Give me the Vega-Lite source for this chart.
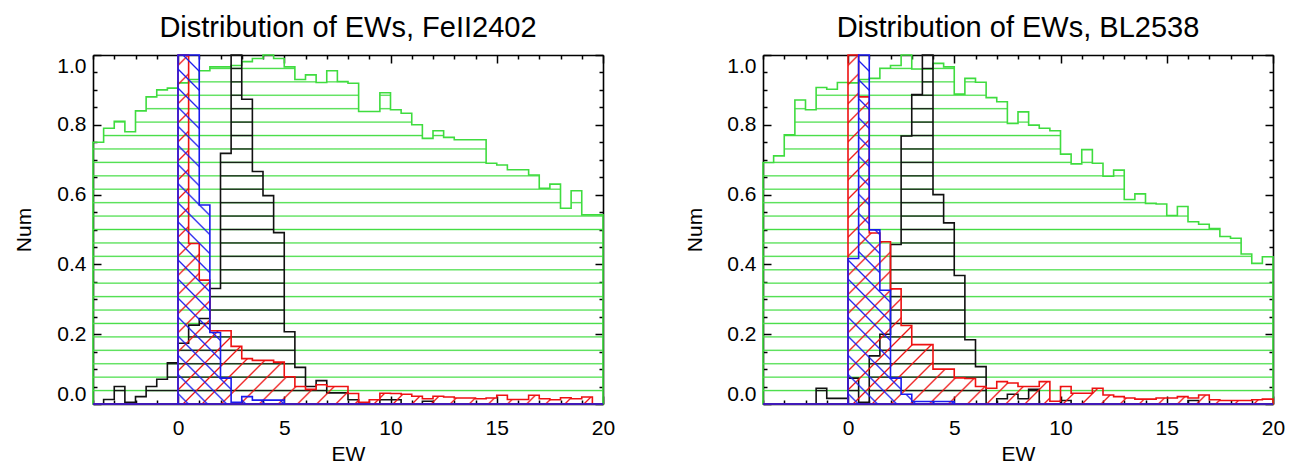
{
"$schema": "https://vega.github.io/schema/vega-lite/v6.json",
"background": "white",
"padding": {"left": 13, "top": 13, "right": 5, "bottom": 5},
"bounds": "flush",
"spacing": 160,
"datasets": {
"L": [
{"ew":-4,"g":0.75,"k":0,"r":0,"b":0},
{"ew":-3.5,"g":0.79,"k":0.013,"r":0,"b":0},
{"ew":-3,"g":0.81,"k":0.05,"r":0,"b":0},
{"ew":-2.5,"g":0.78,"k":0.005,"r":0,"b":0},
{"ew":-2,"g":0.84,"k":0.021,"r":0,"b":0},
{"ew":-1.5,"g":0.88,"k":0.05,"r":0,"b":0},
{"ew":-1,"g":0.9,"k":0.071,"r":0,"b":0},
{"ew":-0.5,"g":0.905,"k":0.118,"r":0,"b":0},
{"ew":0,"g":0.92,"k":0.174,"r":1,"b":1},
{"ew":0.5,"g":0.93,"k":0.226,"r":0.46,"b":1},
{"ew":1,"g":0.955,"k":0.245,"r":0.355,"b":0.57},
{"ew":1.5,"g":0.966,"k":0.331,"r":0.21,"b":0.205},
{"ew":2,"g":0.966,"k":0.718,"r":0.21,"b":0.074},
{"ew":2.5,"g":0.97,"k":1,"r":0.165,"b":0.005},
{"ew":3,"g":0.981,"k":0.873,"r":0.13,"b":0.021},
{"ew":3.5,"g":0.99,"k":0.666,"r":0.125,"b":0.011},
{"ew":4,"g":1,"k":0.597,"r":0.125,"b":0.011},
{"ew":4.5,"g":0.99,"k":0.491,"r":0.12,"b":0.011},
{"ew":5,"g":0.966,"k":0.207,"r":0.078,"b":0},
{"ew":5.5,"g":0.93,"k":0.105,"r":0.05,"b":0},
{"ew":6,"g":0.943,"k":0.05,"r":0.042,"b":0},
{"ew":6.5,"g":0.921,"k":0.067,"r":0.055,"b":0},
{"ew":7,"g":0.955,"k":0.032,"r":0.05,"b":0},
{"ew":7.5,"g":0.924,"k":0.032,"r":0.05,"b":0},
{"ew":8,"g":0.919,"k":0.012,"r":0.03,"b":0},
{"ew":8.5,"g":0.838,"k":0,"r":0.005,"b":0},
{"ew":9,"g":0.838,"k":0,"r":0.012,"b":0},
{"ew":9.5,"g":0.892,"k":0.012,"r":0.031,"b":0},
{"ew":10,"g":0.843,"k":0.012,"r":0.03,"b":0},
{"ew":10.5,"g":0.833,"k":0,"r":0.028,"b":0},
{"ew":11,"g":0.8,"k":0,"r":0.022,"b":0},
{"ew":11.5,"g":0.761,"k":0.008,"r":0.015,"b":0},
{"ew":12,"g":0.783,"k":0,"r":0.022,"b":0},
{"ew":12.5,"g":0.764,"k":0,"r":0.02,"b":0},
{"ew":13,"g":0.757,"k":0,"r":0.017,"b":0},
{"ew":13.5,"g":0.757,"k":0,"r":0.017,"b":0},
{"ew":14,"g":0.757,"k":0,"r":0.015,"b":0},
{"ew":14.5,"g":0.69,"k":0,"r":0.017,"b":0},
{"ew":15,"g":0.685,"k":0,"r":0.025,"b":0},
{"ew":15.5,"g":0.671,"k":0,"r":0.013,"b":0},
{"ew":16,"g":0.671,"k":0,"r":0.013,"b":0},
{"ew":16.5,"g":0.656,"k":0,"r":0.025,"b":0},
{"ew":17,"g":0.618,"k":0,"r":0.015,"b":0},
{"ew":17.5,"g":0.63,"k":0,"r":0.012,"b":0},
{"ew":18,"g":0.561,"k":0,"r":0.018,"b":0},
{"ew":18.5,"g":0.611,"k":0,"r":0.015,"b":0},
{"ew":19,"g":0.542,"k":0,"r":0.02,"b":0},
{"ew":19.5,"g":0.542,"k":0,"r":0,"b":0},
{"ew":20,"g":0.542,"k":0,"r":0,"b":0}
],
"R": [
{"ew":-4,"g":0.692,"k":0,"r":0,"b":0},
{"ew":-3.5,"g":0.711,"k":0,"r":0,"b":0},
{"ew":-3,"g":0.771,"k":0,"r":0,"b":0},
{"ew":-2.5,"g":0.871,"k":0,"r":0,"b":0},
{"ew":-2,"g":0.843,"k":0,"r":0,"b":0},
{"ew":-1.5,"g":0.907,"k":0.045,"r":0,"b":0},
{"ew":-1,"g":0.902,"k":0.016,"r":0,"b":0},
{"ew":-0.5,"g":0.921,"k":0.016,"r":0,"b":0},
{"ew":0,"g":0.92,"k":0.074,"r":1,"b":0.417},
{"ew":0.5,"g":0.93,"k":0.005,"r":0.88,"b":1},
{"ew":1,"g":0.933,"k":0.138,"r":0.49,"b":0.499},
{"ew":1.5,"g":0.962,"k":0.2,"r":0.465,"b":0.326},
{"ew":2,"g":0.97,"k":0.457,"r":0.33,"b":0.074},
{"ew":2.5,"g":1,"k":0.768,"r":0.225,"b":0.028},
{"ew":3,"g":0.96,"k":0.887,"r":0.17,"b":0.007},
{"ew":3.5,"g":0.96,"k":1,"r":0.17,"b":0.007},
{"ew":4,"g":0.976,"k":0.6,"r":0.1,"b":0.007},
{"ew":4.5,"g":0.966,"k":0.519,"r":0.1,"b":0.007},
{"ew":5,"g":0.888,"k":0.368,"r":0.075,"b":0},
{"ew":5.5,"g":0.933,"k":0.184,"r":0.073,"b":0},
{"ew":6,"g":0.922,"k":0.107,"r":0.05,"b":0},
{"ew":6.5,"g":0.878,"k":0,"r":0.045,"b":0},
{"ew":7,"g":0.866,"k":0.015,"r":0.064,"b":0},
{"ew":7.5,"g":0.804,"k":0.028,"r":0.06,"b":0},
{"ew":8,"g":0.837,"k":0.015,"r":0.05,"b":0},
{"ew":8.5,"g":0.799,"k":0.042,"r":0.05,"b":0},
{"ew":9,"g":0.79,"k":0,"r":0.064,"b":0},
{"ew":9.5,"g":0.783,"k":0,"r":0.008,"b":0},
{"ew":10,"g":0.716,"k":0.01,"r":0.05,"b":0},
{"ew":10.5,"g":0.688,"k":0,"r":0.031,"b":0},
{"ew":11,"g":0.729,"k":0,"r":0.031,"b":0},
{"ew":11.5,"g":0.69,"k":0,"r":0.045,"b":0},
{"ew":12,"g":0.653,"k":0,"r":0.026,"b":0},
{"ew":12.5,"g":0.67,"k":0,"r":0.021,"b":0},
{"ew":13,"g":0.586,"k":0,"r":0.017,"b":0},
{"ew":13.5,"g":0.602,"k":0,"r":0.014,"b":0},
{"ew":14,"g":0.575,"k":0,"r":0.014,"b":0},
{"ew":14.5,"g":0.573,"k":0,"r":0.017,"b":0},
{"ew":15,"g":0.54,"k":0,"r":0.017,"b":0},
{"ew":15.5,"g":0.566,"k":0,"r":0.021,"b":0},
{"ew":16,"g":0.522,"k":0.01,"r":0.017,"b":0},
{"ew":16.5,"g":0.515,"k":0,"r":0.026,"b":0},
{"ew":17,"g":0.503,"k":0,"r":0.012,"b":0},
{"ew":17.5,"g":0.48,"k":0,"r":0.01,"b":0},
{"ew":18,"g":0.475,"k":0,"r":0.01,"b":0},
{"ew":18.5,"g":0.43,"k":0,"r":0.01,"b":0},
{"ew":19,"g":0.403,"k":0,"r":0.012,"b":0},
{"ew":19.5,"g":0.422,"k":0,"r":0.014,"b":0},
{"ew":20,"g":0.422,"k":0,"r":0.014,"b":0}
]
},
"hconcat": [
{
"width": 510, "height": 349,
"title": "Distribution of EWs, FeII2402",
"data": {"name": "L"},
"resolve": {"axis": {"x": "independent", "y": "independent"}},
"layer": [
{"mark": {"type": "area", "interpolate": "step-after", "style": "hg", "stroke": "#3fdc3f", "strokeWidth": 1.6},
 "encoding": {
  "x": {"field": "ew", "type": "quantitative", "scale": {"domain": [-4, 20], "nice": false, "zero": false},
   "axis": {"orient": "bottom", "title": "EW", "values": [-4,-3,-2,-1,0,1,2,3,4,5,6,7,8,9,10,11,12,13,14,15,16,17,18,19,20], "labelExpr": "datum.value % 5 === 0 ? datum.label : ''", "labelFlush": false, "tickSize": {"condition": {"test": "datum.value % 5 === 0", "value": -8}, "value": -4}, "labelPadding": 21, "titleY": 56, "titleBaseline": "alphabetic"}},
  "y": {"field": "g", "type": "quantitative", "scale": {"domain": [0, 1], "nice": false, "zero": false},
   "axis": {"orient": "left", "title": "Num", "values": [0,0.05,0.1,0.15,0.2,0.25,0.3,0.35,0.4,0.45,0.5,0.55,0.6,0.65,0.7,0.75,0.8,0.85,0.9,0.95,1], "labelExpr": "round(datum.value*100) % 20 === 0 ? format(datum.value, '.1f') : ''", "labelFlush": true, "tickSize": {"condition": {"test": "round(datum.value*100) % 20 === 0", "value": -8}, "value": -4}, "labelPadding": 15, "titleX": -63, "titleY": 174.5, "titleBaseline": "alphabetic"}}
 }},
{"mark": {"type": "area", "interpolate": "step-after", "style": "hk", "stroke": "#111111", "strokeWidth": 1.6},
 "encoding": {
  "x": {"field": "ew", "type": "quantitative", "axis": {"orient": "top", "title": null, "labels": false, "values": [-4,-3,-2,-1,0,1,2,3,4,5,6,7,8,9,10,11,12,13,14,15,16,17,18,19,20], "tickSize": {"condition": {"test": "datum.value % 5 === 0", "value": -8}, "value": -4}}},
  "y": {"field": "k", "type": "quantitative", "axis": {"orient": "right", "title": null, "labels": false, "values": [0,0.05,0.1,0.15,0.2,0.25,0.3,0.35,0.4,0.45,0.5,0.55,0.6,0.65,0.7,0.75,0.8,0.85,0.9,0.95,1], "tickSize": {"condition": {"test": "round(datum.value*100) % 20 === 0", "value": -8}, "value": -4}}}
 }},
{"mark": {"type": "area", "interpolate": "step-after", "style": "hr", "stroke": "#ee1111", "strokeWidth": 1.6},
 "encoding": {"x": {"field": "ew", "type": "quantitative", "axis": null}, "y": {"field": "r", "type": "quantitative", "axis": null}}},
{"mark": {"type": "area", "interpolate": "step-after", "style": "hb", "stroke": "#1a1aee", "strokeWidth": 1.6},
 "encoding": {"x": {"field": "ew", "type": "quantitative", "axis": null}, "y": {"field": "b", "type": "quantitative", "axis": null}}}
]
},
{
"width": 510, "height": 349,
"title": "Distribution of EWs, BL2538",
"data": {"name": "R"},
"resolve": {"axis": {"x": "independent", "y": "independent"}},
"layer": [
{"mark": {"type": "area", "interpolate": "step-after", "style": "hg", "stroke": "#3fdc3f", "strokeWidth": 1.6},
 "encoding": {
  "x": {"field": "ew", "type": "quantitative", "scale": {"domain": [-4, 20], "nice": false, "zero": false},
   "axis": {"orient": "bottom", "title": "EW", "values": [-4,-3,-2,-1,0,1,2,3,4,5,6,7,8,9,10,11,12,13,14,15,16,17,18,19,20], "labelExpr": "datum.value % 5 === 0 ? datum.label : ''", "labelFlush": false, "tickSize": {"condition": {"test": "datum.value % 5 === 0", "value": -8}, "value": -4}, "labelPadding": 21, "titleY": 56, "titleBaseline": "alphabetic"}},
  "y": {"field": "g", "type": "quantitative", "scale": {"domain": [0, 1], "nice": false, "zero": false},
   "axis": {"orient": "left", "title": "Num", "values": [0,0.05,0.1,0.15,0.2,0.25,0.3,0.35,0.4,0.45,0.5,0.55,0.6,0.65,0.7,0.75,0.8,0.85,0.9,0.95,1], "labelExpr": "round(datum.value*100) % 20 === 0 ? format(datum.value, '.1f') : ''", "labelFlush": true, "tickSize": {"condition": {"test": "round(datum.value*100) % 20 === 0", "value": -8}, "value": -4}, "labelPadding": 15, "titleX": -62, "titleY": 174.5, "titleBaseline": "alphabetic"}}
 }},
{"mark": {"type": "area", "interpolate": "step-after", "style": "hk", "stroke": "#111111", "strokeWidth": 1.6},
 "encoding": {
  "x": {"field": "ew", "type": "quantitative", "axis": {"orient": "top", "title": null, "labels": false, "values": [-4,-3,-2,-1,0,1,2,3,4,5,6,7,8,9,10,11,12,13,14,15,16,17,18,19,20], "tickSize": {"condition": {"test": "datum.value % 5 === 0", "value": -8}, "value": -4}}},
  "y": {"field": "k", "type": "quantitative", "axis": {"orient": "right", "title": null, "labels": false, "values": [0,0.05,0.1,0.15,0.2,0.25,0.3,0.35,0.4,0.45,0.5,0.55,0.6,0.65,0.7,0.75,0.8,0.85,0.9,0.95,1], "tickSize": {"condition": {"test": "round(datum.value*100) % 20 === 0", "value": -8}, "value": -4}}}
 }},
{"mark": {"type": "area", "interpolate": "step-after", "style": "hr", "stroke": "#ee1111", "strokeWidth": 1.6},
 "encoding": {"x": {"field": "ew", "type": "quantitative", "axis": null}, "y": {"field": "r", "type": "quantitative", "axis": null}}},
{"mark": {"type": "area", "interpolate": "step-after", "style": "hb", "stroke": "#1a1aee", "strokeWidth": 1.6},
 "encoding": {"x": {"field": "ew", "type": "quantitative", "axis": null}, "y": {"field": "b", "type": "quantitative", "axis": null}}}
]
}
],
"config": {
"font": "Liberation Sans",
"view": {"stroke": null},
"axis": {"grid": false, "domainColor": "black", "domainWidth": 1.6, "tickColor": "black", "tickWidth": 1.5, "labelFont": "Liberation Sans", "labelFontSize": 21, "labelColor": "black", "titleFont": "Liberation Sans", "titleFontSize": 21, "titleFontWeight": "normal", "titleColor": "black", "zindex": 1, "labelOverlap": false},
"title": {"font": "Liberation Sans", "fontSize": 29, "fontWeight": "normal", "color": "black", "offset": 9, "baseline": "alphabetic"},
"style": {
"hg": {"color": {"gradient": "linear", "x1": 0, "y1": 0, "x2": 0, "y2": 1, "stops": [
{"offset":0.0349,"color":"rgba(68,221,68,0)"},{"offset":0.0385,"color":"rgb(68,221,68)"},{"offset":0.0421,"color":"rgba(68,221,68,0)"},
{"offset":0.0733,"color":"rgba(68,221,68,0)"},{"offset":0.0769,"color":"rgb(68,221,68)"},{"offset":0.0805,"color":"rgba(68,221,68,0)"},
{"offset":0.1118,"color":"rgba(68,221,68,0)"},{"offset":0.1154,"color":"rgb(68,221,68)"},{"offset":0.119,"color":"rgba(68,221,68,0)"},
{"offset":0.1502,"color":"rgba(68,221,68,0)"},{"offset":0.1538,"color":"rgb(68,221,68)"},{"offset":0.1574,"color":"rgba(68,221,68,0)"},
{"offset":0.1887,"color":"rgba(68,221,68,0)"},{"offset":0.1923,"color":"rgb(68,221,68)"},{"offset":0.1959,"color":"rgba(68,221,68,0)"},
{"offset":0.2272,"color":"rgba(68,221,68,0)"},{"offset":0.2308,"color":"rgb(68,221,68)"},{"offset":0.2344,"color":"rgba(68,221,68,0)"},
{"offset":0.2656,"color":"rgba(68,221,68,0)"},{"offset":0.2692,"color":"rgb(68,221,68)"},{"offset":0.2728,"color":"rgba(68,221,68,0)"},
{"offset":0.3041,"color":"rgba(68,221,68,0)"},{"offset":0.3077,"color":"rgb(68,221,68)"},{"offset":0.3113,"color":"rgba(68,221,68,0)"},
{"offset":0.3426,"color":"rgba(68,221,68,0)"},{"offset":0.3462,"color":"rgb(68,221,68)"},{"offset":0.3498,"color":"rgba(68,221,68,0)"},
{"offset":0.381,"color":"rgba(68,221,68,0)"},{"offset":0.3846,"color":"rgb(68,221,68)"},{"offset":0.3882,"color":"rgba(68,221,68,0)"},
{"offset":0.4195,"color":"rgba(68,221,68,0)"},{"offset":0.4231,"color":"rgb(68,221,68)"},{"offset":0.4267,"color":"rgba(68,221,68,0)"},
{"offset":0.4579,"color":"rgba(68,221,68,0)"},{"offset":0.4615,"color":"rgb(68,221,68)"},{"offset":0.4651,"color":"rgba(68,221,68,0)"},
{"offset":0.4964,"color":"rgba(68,221,68,0)"},{"offset":0.5,"color":"rgb(68,221,68)"},{"offset":0.5036,"color":"rgba(68,221,68,0)"},
{"offset":0.5349,"color":"rgba(68,221,68,0)"},{"offset":0.5385,"color":"rgb(68,221,68)"},{"offset":0.5421,"color":"rgba(68,221,68,0)"},
{"offset":0.5733,"color":"rgba(68,221,68,0)"},{"offset":0.5769,"color":"rgb(68,221,68)"},{"offset":0.5805,"color":"rgba(68,221,68,0)"},
{"offset":0.6118,"color":"rgba(68,221,68,0)"},{"offset":0.6154,"color":"rgb(68,221,68)"},{"offset":0.619,"color":"rgba(68,221,68,0)"},
{"offset":0.6502,"color":"rgba(68,221,68,0)"},{"offset":0.6538,"color":"rgb(68,221,68)"},{"offset":0.6574,"color":"rgba(68,221,68,0)"},
{"offset":0.6887,"color":"rgba(68,221,68,0)"},{"offset":0.6923,"color":"rgb(68,221,68)"},{"offset":0.6959,"color":"rgba(68,221,68,0)"},
{"offset":0.7272,"color":"rgba(68,221,68,0)"},{"offset":0.7308,"color":"rgb(68,221,68)"},{"offset":0.7344,"color":"rgba(68,221,68,0)"},
{"offset":0.7656,"color":"rgba(68,221,68,0)"},{"offset":0.7692,"color":"rgb(68,221,68)"},{"offset":0.7728,"color":"rgba(68,221,68,0)"},
{"offset":0.8041,"color":"rgba(68,221,68,0)"},{"offset":0.8077,"color":"rgb(68,221,68)"},{"offset":0.8113,"color":"rgba(68,221,68,0)"},
{"offset":0.8426,"color":"rgba(68,221,68,0)"},{"offset":0.8462,"color":"rgb(68,221,68)"},{"offset":0.8498,"color":"rgba(68,221,68,0)"},
{"offset":0.881,"color":"rgba(68,221,68,0)"},{"offset":0.8846,"color":"rgb(68,221,68)"},{"offset":0.8882,"color":"rgba(68,221,68,0)"},
{"offset":0.9195,"color":"rgba(68,221,68,0)"},{"offset":0.9231,"color":"rgb(68,221,68)"},{"offset":0.9267,"color":"rgba(68,221,68,0)"},
{"offset":0.9579,"color":"rgba(68,221,68,0)"},{"offset":0.9615,"color":"rgb(68,221,68)"},{"offset":0.9651,"color":"rgba(68,221,68,0)"}
]}},
"hk": {"color": {"gradient": "linear", "x1": 0, "y1": 0, "x2": 0, "y2": 1, "stops": [
{"offset":0.0349,"color":"rgba(17,17,17,0)"},{"offset":0.0385,"color":"rgb(17,17,17)"},{"offset":0.0421,"color":"rgba(17,17,17,0)"},
{"offset":0.0733,"color":"rgba(17,17,17,0)"},{"offset":0.0769,"color":"rgb(17,17,17)"},{"offset":0.0805,"color":"rgba(17,17,17,0)"},
{"offset":0.1118,"color":"rgba(17,17,17,0)"},{"offset":0.1154,"color":"rgb(17,17,17)"},{"offset":0.119,"color":"rgba(17,17,17,0)"},
{"offset":0.1502,"color":"rgba(17,17,17,0)"},{"offset":0.1538,"color":"rgb(17,17,17)"},{"offset":0.1574,"color":"rgba(17,17,17,0)"},
{"offset":0.1887,"color":"rgba(17,17,17,0)"},{"offset":0.1923,"color":"rgb(17,17,17)"},{"offset":0.1959,"color":"rgba(17,17,17,0)"},
{"offset":0.2272,"color":"rgba(17,17,17,0)"},{"offset":0.2308,"color":"rgb(17,17,17)"},{"offset":0.2344,"color":"rgba(17,17,17,0)"},
{"offset":0.2656,"color":"rgba(17,17,17,0)"},{"offset":0.2692,"color":"rgb(17,17,17)"},{"offset":0.2728,"color":"rgba(17,17,17,0)"},
{"offset":0.3041,"color":"rgba(17,17,17,0)"},{"offset":0.3077,"color":"rgb(17,17,17)"},{"offset":0.3113,"color":"rgba(17,17,17,0)"},
{"offset":0.3426,"color":"rgba(17,17,17,0)"},{"offset":0.3462,"color":"rgb(17,17,17)"},{"offset":0.3498,"color":"rgba(17,17,17,0)"},
{"offset":0.381,"color":"rgba(17,17,17,0)"},{"offset":0.3846,"color":"rgb(17,17,17)"},{"offset":0.3882,"color":"rgba(17,17,17,0)"},
{"offset":0.4195,"color":"rgba(17,17,17,0)"},{"offset":0.4231,"color":"rgb(17,17,17)"},{"offset":0.4267,"color":"rgba(17,17,17,0)"},
{"offset":0.4579,"color":"rgba(17,17,17,0)"},{"offset":0.4615,"color":"rgb(17,17,17)"},{"offset":0.4651,"color":"rgba(17,17,17,0)"},
{"offset":0.4964,"color":"rgba(17,17,17,0)"},{"offset":0.5,"color":"rgb(17,17,17)"},{"offset":0.5036,"color":"rgba(17,17,17,0)"},
{"offset":0.5349,"color":"rgba(17,17,17,0)"},{"offset":0.5385,"color":"rgb(17,17,17)"},{"offset":0.5421,"color":"rgba(17,17,17,0)"},
{"offset":0.5733,"color":"rgba(17,17,17,0)"},{"offset":0.5769,"color":"rgb(17,17,17)"},{"offset":0.5805,"color":"rgba(17,17,17,0)"},
{"offset":0.6118,"color":"rgba(17,17,17,0)"},{"offset":0.6154,"color":"rgb(17,17,17)"},{"offset":0.619,"color":"rgba(17,17,17,0)"},
{"offset":0.6502,"color":"rgba(17,17,17,0)"},{"offset":0.6538,"color":"rgb(17,17,17)"},{"offset":0.6574,"color":"rgba(17,17,17,0)"},
{"offset":0.6887,"color":"rgba(17,17,17,0)"},{"offset":0.6923,"color":"rgb(17,17,17)"},{"offset":0.6959,"color":"rgba(17,17,17,0)"},
{"offset":0.7272,"color":"rgba(17,17,17,0)"},{"offset":0.7308,"color":"rgb(17,17,17)"},{"offset":0.7344,"color":"rgba(17,17,17,0)"},
{"offset":0.7656,"color":"rgba(17,17,17,0)"},{"offset":0.7692,"color":"rgb(17,17,17)"},{"offset":0.7728,"color":"rgba(17,17,17,0)"},
{"offset":0.8041,"color":"rgba(17,17,17,0)"},{"offset":0.8077,"color":"rgb(17,17,17)"},{"offset":0.8113,"color":"rgba(17,17,17,0)"},
{"offset":0.8426,"color":"rgba(17,17,17,0)"},{"offset":0.8462,"color":"rgb(17,17,17)"},{"offset":0.8498,"color":"rgba(17,17,17,0)"},
{"offset":0.881,"color":"rgba(17,17,17,0)"},{"offset":0.8846,"color":"rgb(17,17,17)"},{"offset":0.8882,"color":"rgba(17,17,17,0)"},
{"offset":0.9195,"color":"rgba(17,17,17,0)"},{"offset":0.9231,"color":"rgb(17,17,17)"},{"offset":0.9267,"color":"rgba(17,17,17,0)"},
{"offset":0.9579,"color":"rgba(17,17,17,0)"},{"offset":0.9615,"color":"rgb(17,17,17)"},{"offset":0.9651,"color":"rgba(17,17,17,0)"}
]}},
"hr": {"color": {"gradient": "linear", "x1": 0, "y1": 0, "x2": 1.1471, "y2": 0.785, "stops": [
{"offset":0.0201,"color":"rgba(238,17,17,0)"},{"offset":0.0222,"color":"rgb(238,17,17)"},{"offset":0.0243,"color":"rgba(238,17,17,0)"},
{"offset":0.0423,"color":"rgba(238,17,17,0)"},{"offset":0.0444,"color":"rgb(238,17,17)"},{"offset":0.0465,"color":"rgba(238,17,17,0)"},
{"offset":0.0646,"color":"rgba(238,17,17,0)"},{"offset":0.0667,"color":"rgb(238,17,17)"},{"offset":0.0688,"color":"rgba(238,17,17,0)"},
{"offset":0.0868,"color":"rgba(238,17,17,0)"},{"offset":0.0889,"color":"rgb(238,17,17)"},{"offset":0.091,"color":"rgba(238,17,17,0)"},
{"offset":0.109,"color":"rgba(238,17,17,0)"},{"offset":0.1111,"color":"rgb(238,17,17)"},{"offset":0.1132,"color":"rgba(238,17,17,0)"},
{"offset":0.1312,"color":"rgba(238,17,17,0)"},{"offset":0.1333,"color":"rgb(238,17,17)"},{"offset":0.1354,"color":"rgba(238,17,17,0)"},
{"offset":0.1535,"color":"rgba(238,17,17,0)"},{"offset":0.1556,"color":"rgb(238,17,17)"},{"offset":0.1577,"color":"rgba(238,17,17,0)"},
{"offset":0.1757,"color":"rgba(238,17,17,0)"},{"offset":0.1778,"color":"rgb(238,17,17)"},{"offset":0.1799,"color":"rgba(238,17,17,0)"},
{"offset":0.1979,"color":"rgba(238,17,17,0)"},{"offset":0.2,"color":"rgb(238,17,17)"},{"offset":0.2021,"color":"rgba(238,17,17,0)"},
{"offset":0.2201,"color":"rgba(238,17,17,0)"},{"offset":0.2222,"color":"rgb(238,17,17)"},{"offset":0.2243,"color":"rgba(238,17,17,0)"},
{"offset":0.2423,"color":"rgba(238,17,17,0)"},{"offset":0.2444,"color":"rgb(238,17,17)"},{"offset":0.2465,"color":"rgba(238,17,17,0)"},
{"offset":0.2646,"color":"rgba(238,17,17,0)"},{"offset":0.2667,"color":"rgb(238,17,17)"},{"offset":0.2688,"color":"rgba(238,17,17,0)"},
{"offset":0.2868,"color":"rgba(238,17,17,0)"},{"offset":0.2889,"color":"rgb(238,17,17)"},{"offset":0.291,"color":"rgba(238,17,17,0)"},
{"offset":0.309,"color":"rgba(238,17,17,0)"},{"offset":0.3111,"color":"rgb(238,17,17)"},{"offset":0.3132,"color":"rgba(238,17,17,0)"},
{"offset":0.3312,"color":"rgba(238,17,17,0)"},{"offset":0.3333,"color":"rgb(238,17,17)"},{"offset":0.3354,"color":"rgba(238,17,17,0)"},
{"offset":0.3535,"color":"rgba(238,17,17,0)"},{"offset":0.3556,"color":"rgb(238,17,17)"},{"offset":0.3577,"color":"rgba(238,17,17,0)"},
{"offset":0.3757,"color":"rgba(238,17,17,0)"},{"offset":0.3778,"color":"rgb(238,17,17)"},{"offset":0.3799,"color":"rgba(238,17,17,0)"},
{"offset":0.3979,"color":"rgba(238,17,17,0)"},{"offset":0.4,"color":"rgb(238,17,17)"},{"offset":0.4021,"color":"rgba(238,17,17,0)"},
{"offset":0.4201,"color":"rgba(238,17,17,0)"},{"offset":0.4222,"color":"rgb(238,17,17)"},{"offset":0.4243,"color":"rgba(238,17,17,0)"},
{"offset":0.4423,"color":"rgba(238,17,17,0)"},{"offset":0.4444,"color":"rgb(238,17,17)"},{"offset":0.4465,"color":"rgba(238,17,17,0)"},
{"offset":0.4646,"color":"rgba(238,17,17,0)"},{"offset":0.4667,"color":"rgb(238,17,17)"},{"offset":0.4688,"color":"rgba(238,17,17,0)"},
{"offset":0.4868,"color":"rgba(238,17,17,0)"},{"offset":0.4889,"color":"rgb(238,17,17)"},{"offset":0.491,"color":"rgba(238,17,17,0)"},
{"offset":0.509,"color":"rgba(238,17,17,0)"},{"offset":0.5111,"color":"rgb(238,17,17)"},{"offset":0.5132,"color":"rgba(238,17,17,0)"},
{"offset":0.5312,"color":"rgba(238,17,17,0)"},{"offset":0.5333,"color":"rgb(238,17,17)"},{"offset":0.5354,"color":"rgba(238,17,17,0)"},
{"offset":0.5535,"color":"rgba(238,17,17,0)"},{"offset":0.5556,"color":"rgb(238,17,17)"},{"offset":0.5577,"color":"rgba(238,17,17,0)"},
{"offset":0.5757,"color":"rgba(238,17,17,0)"},{"offset":0.5778,"color":"rgb(238,17,17)"},{"offset":0.5799,"color":"rgba(238,17,17,0)"},
{"offset":0.5979,"color":"rgba(238,17,17,0)"},{"offset":0.6,"color":"rgb(238,17,17)"},{"offset":0.6021,"color":"rgba(238,17,17,0)"},
{"offset":0.6201,"color":"rgba(238,17,17,0)"},{"offset":0.6222,"color":"rgb(238,17,17)"},{"offset":0.6243,"color":"rgba(238,17,17,0)"},
{"offset":0.6423,"color":"rgba(238,17,17,0)"},{"offset":0.6444,"color":"rgb(238,17,17)"},{"offset":0.6465,"color":"rgba(238,17,17,0)"},
{"offset":0.6646,"color":"rgba(238,17,17,0)"},{"offset":0.6667,"color":"rgb(238,17,17)"},{"offset":0.6688,"color":"rgba(238,17,17,0)"},
{"offset":0.6868,"color":"rgba(238,17,17,0)"},{"offset":0.6889,"color":"rgb(238,17,17)"},{"offset":0.691,"color":"rgba(238,17,17,0)"},
{"offset":0.709,"color":"rgba(238,17,17,0)"},{"offset":0.7111,"color":"rgb(238,17,17)"},{"offset":0.7132,"color":"rgba(238,17,17,0)"},
{"offset":0.7312,"color":"rgba(238,17,17,0)"},{"offset":0.7333,"color":"rgb(238,17,17)"},{"offset":0.7354,"color":"rgba(238,17,17,0)"},
{"offset":0.7535,"color":"rgba(238,17,17,0)"},{"offset":0.7556,"color":"rgb(238,17,17)"},{"offset":0.7577,"color":"rgba(238,17,17,0)"},
{"offset":0.7757,"color":"rgba(238,17,17,0)"},{"offset":0.7778,"color":"rgb(238,17,17)"},{"offset":0.7799,"color":"rgba(238,17,17,0)"},
{"offset":0.7979,"color":"rgba(238,17,17,0)"},{"offset":0.8,"color":"rgb(238,17,17)"},{"offset":0.8021,"color":"rgba(238,17,17,0)"},
{"offset":0.8201,"color":"rgba(238,17,17,0)"},{"offset":0.8222,"color":"rgb(238,17,17)"},{"offset":0.8243,"color":"rgba(238,17,17,0)"},
{"offset":0.8423,"color":"rgba(238,17,17,0)"},{"offset":0.8444,"color":"rgb(238,17,17)"},{"offset":0.8465,"color":"rgba(238,17,17,0)"},
{"offset":0.8646,"color":"rgba(238,17,17,0)"},{"offset":0.8667,"color":"rgb(238,17,17)"},{"offset":0.8688,"color":"rgba(238,17,17,0)"},
{"offset":0.8868,"color":"rgba(238,17,17,0)"},{"offset":0.8889,"color":"rgb(238,17,17)"},{"offset":0.891,"color":"rgba(238,17,17,0)"},
{"offset":0.909,"color":"rgba(238,17,17,0)"},{"offset":0.9111,"color":"rgb(238,17,17)"},{"offset":0.9132,"color":"rgba(238,17,17,0)"},
{"offset":0.9312,"color":"rgba(238,17,17,0)"},{"offset":0.9333,"color":"rgb(238,17,17)"},{"offset":0.9354,"color":"rgba(238,17,17,0)"},
{"offset":0.9535,"color":"rgba(238,17,17,0)"},{"offset":0.9556,"color":"rgb(238,17,17)"},{"offset":0.9577,"color":"rgba(238,17,17,0)"},
{"offset":0.9757,"color":"rgba(238,17,17,0)"},{"offset":0.9778,"color":"rgb(238,17,17)"},{"offset":0.9799,"color":"rgba(238,17,17,0)"}
]}},
"hb": {"color": {"gradient": "linear", "x1": 0, "y1": 1, "x2": 1.1471, "y2": 0.215, "stops": [
{"offset":0.0201,"color":"rgba(26,26,238,0)"},{"offset":0.0222,"color":"rgb(26,26,238)"},{"offset":0.0243,"color":"rgba(26,26,238,0)"},
{"offset":0.0423,"color":"rgba(26,26,238,0)"},{"offset":0.0444,"color":"rgb(26,26,238)"},{"offset":0.0465,"color":"rgba(26,26,238,0)"},
{"offset":0.0646,"color":"rgba(26,26,238,0)"},{"offset":0.0667,"color":"rgb(26,26,238)"},{"offset":0.0688,"color":"rgba(26,26,238,0)"},
{"offset":0.0868,"color":"rgba(26,26,238,0)"},{"offset":0.0889,"color":"rgb(26,26,238)"},{"offset":0.091,"color":"rgba(26,26,238,0)"},
{"offset":0.109,"color":"rgba(26,26,238,0)"},{"offset":0.1111,"color":"rgb(26,26,238)"},{"offset":0.1132,"color":"rgba(26,26,238,0)"},
{"offset":0.1312,"color":"rgba(26,26,238,0)"},{"offset":0.1333,"color":"rgb(26,26,238)"},{"offset":0.1354,"color":"rgba(26,26,238,0)"},
{"offset":0.1535,"color":"rgba(26,26,238,0)"},{"offset":0.1556,"color":"rgb(26,26,238)"},{"offset":0.1577,"color":"rgba(26,26,238,0)"},
{"offset":0.1757,"color":"rgba(26,26,238,0)"},{"offset":0.1778,"color":"rgb(26,26,238)"},{"offset":0.1799,"color":"rgba(26,26,238,0)"},
{"offset":0.1979,"color":"rgba(26,26,238,0)"},{"offset":0.2,"color":"rgb(26,26,238)"},{"offset":0.2021,"color":"rgba(26,26,238,0)"},
{"offset":0.2201,"color":"rgba(26,26,238,0)"},{"offset":0.2222,"color":"rgb(26,26,238)"},{"offset":0.2243,"color":"rgba(26,26,238,0)"},
{"offset":0.2423,"color":"rgba(26,26,238,0)"},{"offset":0.2444,"color":"rgb(26,26,238)"},{"offset":0.2465,"color":"rgba(26,26,238,0)"},
{"offset":0.2646,"color":"rgba(26,26,238,0)"},{"offset":0.2667,"color":"rgb(26,26,238)"},{"offset":0.2688,"color":"rgba(26,26,238,0)"},
{"offset":0.2868,"color":"rgba(26,26,238,0)"},{"offset":0.2889,"color":"rgb(26,26,238)"},{"offset":0.291,"color":"rgba(26,26,238,0)"},
{"offset":0.309,"color":"rgba(26,26,238,0)"},{"offset":0.3111,"color":"rgb(26,26,238)"},{"offset":0.3132,"color":"rgba(26,26,238,0)"},
{"offset":0.3312,"color":"rgba(26,26,238,0)"},{"offset":0.3333,"color":"rgb(26,26,238)"},{"offset":0.3354,"color":"rgba(26,26,238,0)"},
{"offset":0.3535,"color":"rgba(26,26,238,0)"},{"offset":0.3556,"color":"rgb(26,26,238)"},{"offset":0.3577,"color":"rgba(26,26,238,0)"},
{"offset":0.3757,"color":"rgba(26,26,238,0)"},{"offset":0.3778,"color":"rgb(26,26,238)"},{"offset":0.3799,"color":"rgba(26,26,238,0)"},
{"offset":0.3979,"color":"rgba(26,26,238,0)"},{"offset":0.4,"color":"rgb(26,26,238)"},{"offset":0.4021,"color":"rgba(26,26,238,0)"},
{"offset":0.4201,"color":"rgba(26,26,238,0)"},{"offset":0.4222,"color":"rgb(26,26,238)"},{"offset":0.4243,"color":"rgba(26,26,238,0)"},
{"offset":0.4423,"color":"rgba(26,26,238,0)"},{"offset":0.4444,"color":"rgb(26,26,238)"},{"offset":0.4465,"color":"rgba(26,26,238,0)"},
{"offset":0.4646,"color":"rgba(26,26,238,0)"},{"offset":0.4667,"color":"rgb(26,26,238)"},{"offset":0.4688,"color":"rgba(26,26,238,0)"},
{"offset":0.4868,"color":"rgba(26,26,238,0)"},{"offset":0.4889,"color":"rgb(26,26,238)"},{"offset":0.491,"color":"rgba(26,26,238,0)"},
{"offset":0.509,"color":"rgba(26,26,238,0)"},{"offset":0.5111,"color":"rgb(26,26,238)"},{"offset":0.5132,"color":"rgba(26,26,238,0)"},
{"offset":0.5312,"color":"rgba(26,26,238,0)"},{"offset":0.5333,"color":"rgb(26,26,238)"},{"offset":0.5354,"color":"rgba(26,26,238,0)"},
{"offset":0.5535,"color":"rgba(26,26,238,0)"},{"offset":0.5556,"color":"rgb(26,26,238)"},{"offset":0.5577,"color":"rgba(26,26,238,0)"},
{"offset":0.5757,"color":"rgba(26,26,238,0)"},{"offset":0.5778,"color":"rgb(26,26,238)"},{"offset":0.5799,"color":"rgba(26,26,238,0)"},
{"offset":0.5979,"color":"rgba(26,26,238,0)"},{"offset":0.6,"color":"rgb(26,26,238)"},{"offset":0.6021,"color":"rgba(26,26,238,0)"},
{"offset":0.6201,"color":"rgba(26,26,238,0)"},{"offset":0.6222,"color":"rgb(26,26,238)"},{"offset":0.6243,"color":"rgba(26,26,238,0)"},
{"offset":0.6423,"color":"rgba(26,26,238,0)"},{"offset":0.6444,"color":"rgb(26,26,238)"},{"offset":0.6465,"color":"rgba(26,26,238,0)"},
{"offset":0.6646,"color":"rgba(26,26,238,0)"},{"offset":0.6667,"color":"rgb(26,26,238)"},{"offset":0.6688,"color":"rgba(26,26,238,0)"},
{"offset":0.6868,"color":"rgba(26,26,238,0)"},{"offset":0.6889,"color":"rgb(26,26,238)"},{"offset":0.691,"color":"rgba(26,26,238,0)"},
{"offset":0.709,"color":"rgba(26,26,238,0)"},{"offset":0.7111,"color":"rgb(26,26,238)"},{"offset":0.7132,"color":"rgba(26,26,238,0)"},
{"offset":0.7312,"color":"rgba(26,26,238,0)"},{"offset":0.7333,"color":"rgb(26,26,238)"},{"offset":0.7354,"color":"rgba(26,26,238,0)"},
{"offset":0.7535,"color":"rgba(26,26,238,0)"},{"offset":0.7556,"color":"rgb(26,26,238)"},{"offset":0.7577,"color":"rgba(26,26,238,0)"},
{"offset":0.7757,"color":"rgba(26,26,238,0)"},{"offset":0.7778,"color":"rgb(26,26,238)"},{"offset":0.7799,"color":"rgba(26,26,238,0)"},
{"offset":0.7979,"color":"rgba(26,26,238,0)"},{"offset":0.8,"color":"rgb(26,26,238)"},{"offset":0.8021,"color":"rgba(26,26,238,0)"},
{"offset":0.8201,"color":"rgba(26,26,238,0)"},{"offset":0.8222,"color":"rgb(26,26,238)"},{"offset":0.8243,"color":"rgba(26,26,238,0)"},
{"offset":0.8423,"color":"rgba(26,26,238,0)"},{"offset":0.8444,"color":"rgb(26,26,238)"},{"offset":0.8465,"color":"rgba(26,26,238,0)"},
{"offset":0.8646,"color":"rgba(26,26,238,0)"},{"offset":0.8667,"color":"rgb(26,26,238)"},{"offset":0.8688,"color":"rgba(26,26,238,0)"},
{"offset":0.8868,"color":"rgba(26,26,238,0)"},{"offset":0.8889,"color":"rgb(26,26,238)"},{"offset":0.891,"color":"rgba(26,26,238,0)"},
{"offset":0.909,"color":"rgba(26,26,238,0)"},{"offset":0.9111,"color":"rgb(26,26,238)"},{"offset":0.9132,"color":"rgba(26,26,238,0)"},
{"offset":0.9312,"color":"rgba(26,26,238,0)"},{"offset":0.9333,"color":"rgb(26,26,238)"},{"offset":0.9354,"color":"rgba(26,26,238,0)"},
{"offset":0.9535,"color":"rgba(26,26,238,0)"},{"offset":0.9556,"color":"rgb(26,26,238)"},{"offset":0.9577,"color":"rgba(26,26,238,0)"},
{"offset":0.9757,"color":"rgba(26,26,238,0)"},{"offset":0.9778,"color":"rgb(26,26,238)"},{"offset":0.9799,"color":"rgba(26,26,238,0)"}
]}}
}
}
}
